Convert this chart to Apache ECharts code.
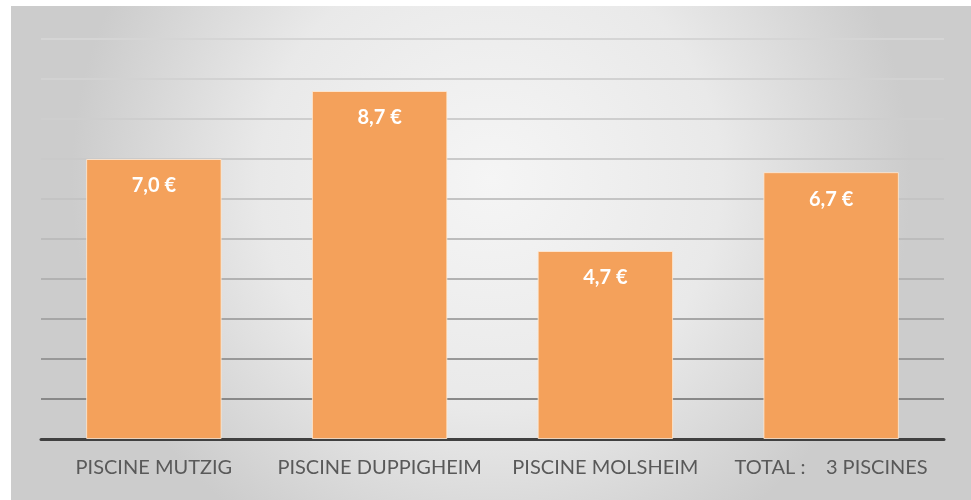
<!DOCTYPE html>
<html>
<head>
<meta charset="utf-8">
<script src="https://cdn.jsdelivr.net/npm/echarts@6/dist/echarts.min.js"></script>
<style>
html,body{margin:0;padding:0;background:#fff;}
#c{width:971px;height:500px;}
</style>
</head>
<body>
<div id="c"></div>
<script>
const categories = ["PISCINE MUTZIG", "PISCINE DUPPIGHEIM", "PISCINE MOLSHEIM", "TOTAL :    3 PISCINES"];
const prices = [7.0, 8.7, 4.7, 6.67];
const yTicks = [0, 1, 2, 3, 4, 5, 6, 7, 8, 9, 10];

const chart = echarts.init(document.getElementById('c'), null, {renderer: 'canvas'});
const gridColors = ['#444', '#888888', '#989898', '#a6a6a6', '#b2b2b2', '#bcbcbc', '#c4c4c4', '#cacaca', '#cecece', '#d2d2d2', '#d5d5d5'];
chart.setOption({
  animation: false,
  graphic: [{
    type: 'rect', z: -10, silent: true,
    shape: {x: 11, y: 6, width: 960, height: 494},
    style: {
      fill: new echarts.graphic.RadialGradient(0.5, 0.35, 0.85, [
        {offset: 0, color: '#f5f5f5'},
        {offset: 0.55, color: '#e9e9e9'},
        {offset: 1, color: '#cccccc'}
      ])
    }
  }],
  grid: {left: 41, right: 27, top: 39, bottom: 61},
  xAxis: {
    type: 'category',
    data: categories,
    axisLine: {lineStyle: {color: '#404040', width: 3}},
    axisTick: {show: false},
    axisLabel: {color: '#595959', fontSize: 20, fontFamily: 'Lato', margin: 19, interval: 0}
  },
  yAxis: {
    type: 'value',
    min: yTicks[0], max: yTicks[yTicks.length - 1], interval: 1,
    axisLabel: {show: false},
    axisLine: {show: false},
    axisTick: {show: false},
    splitLine: {lineStyle: {color: gridColors, width: 2}}
  },
  series: [{
    type: 'bar',
    data: prices,
    barWidth: '60%',
    itemStyle: {color: '#F4A15B', borderColor: 'rgba(255,235,215,0.8)', borderWidth: 1},
    label: {
      show: true, position: 'insideTop', distance: 17,
      color: '#fff', fontWeight: 'bold', fontSize: 20, fontFamily: 'Lato',
      formatter: p => p.value.toFixed(1).replace('.', ',') + ' €'
    }
  }]
});
</script>
</body>
</html>
